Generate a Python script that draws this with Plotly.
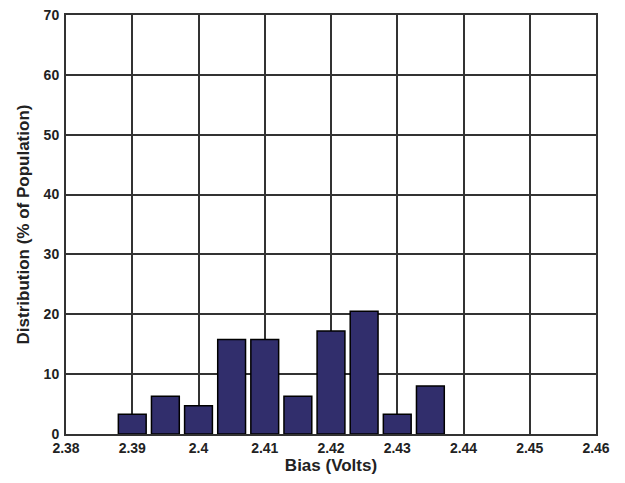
import plotly.graph_objects as go

bias_volts = [2.39, 2.395, 2.40, 2.405, 2.41, 2.415, 2.42, 2.425, 2.43, 2.435]
distribution_pct = [3.3, 6.3, 4.7, 15.8, 15.8, 6.3, 17.2, 20.5, 3.3, 8.0]
x_ticks = [2.38, 2.39, 2.40, 2.41, 2.42, 2.43, 2.44, 2.45, 2.46]
x_tick_labels = ["2.38", "2.39", "2.4", "2.41", "2.42", "2.43", "2.44", "2.45", "2.46"]
y_ticks = [0, 10, 20, 30, 40, 50, 60, 70]

fig = go.Figure()
fig.add_trace(go.Bar(
    x=bias_volts, y=distribution_pct, width=0.0042,
    marker=dict(color="#312e6c", line=dict(color="#000000", width=1.5)),
))

font_fam = "Liberation Sans, Arial, sans-serif"
tick_font = dict(size=14, family=font_fam, color="#222222", weight="bold")
title_font = dict(size=17, family=font_fam, color="#222222", weight="bold")
fig.update_layout(
    width=617, height=475,
    margin=dict(l=58, r=29, t=7, b=49),
    paper_bgcolor="white", plot_bgcolor="white",
    showlegend=False,
    font=dict(family=font_fam, color="#222222"),
    xaxis=dict(
        range=[2.38, 2.46], tickvals=x_ticks, ticktext=x_tick_labels,
        showgrid=True, gridcolor="#333333", gridwidth=1.5,
        showline=True, linecolor="#333333", linewidth=2, mirror=True,
        ticks="", tickfont=tick_font, ticklabelstandoff=0, ticklabeloverflow="allow",
        title=dict(text="Bias (Volts)", font=title_font, standoff=2),
        zeroline=False, automargin=False,
    ),
    yaxis=dict(
        range=[0, 70], tickvals=y_ticks,
        showgrid=True, gridcolor="#333333", gridwidth=1.5,
        showline=True, linecolor="#333333", linewidth=2, mirror=True,
        ticks="", tickfont=tick_font, ticklabelstandoff=2, ticklabeloverflow="allow",
        title=dict(text="Distribution (% of Population)", font=title_font, standoff=10),
        zeroline=False, automargin=False,
    ),
)
fig.write_html("out.html")
